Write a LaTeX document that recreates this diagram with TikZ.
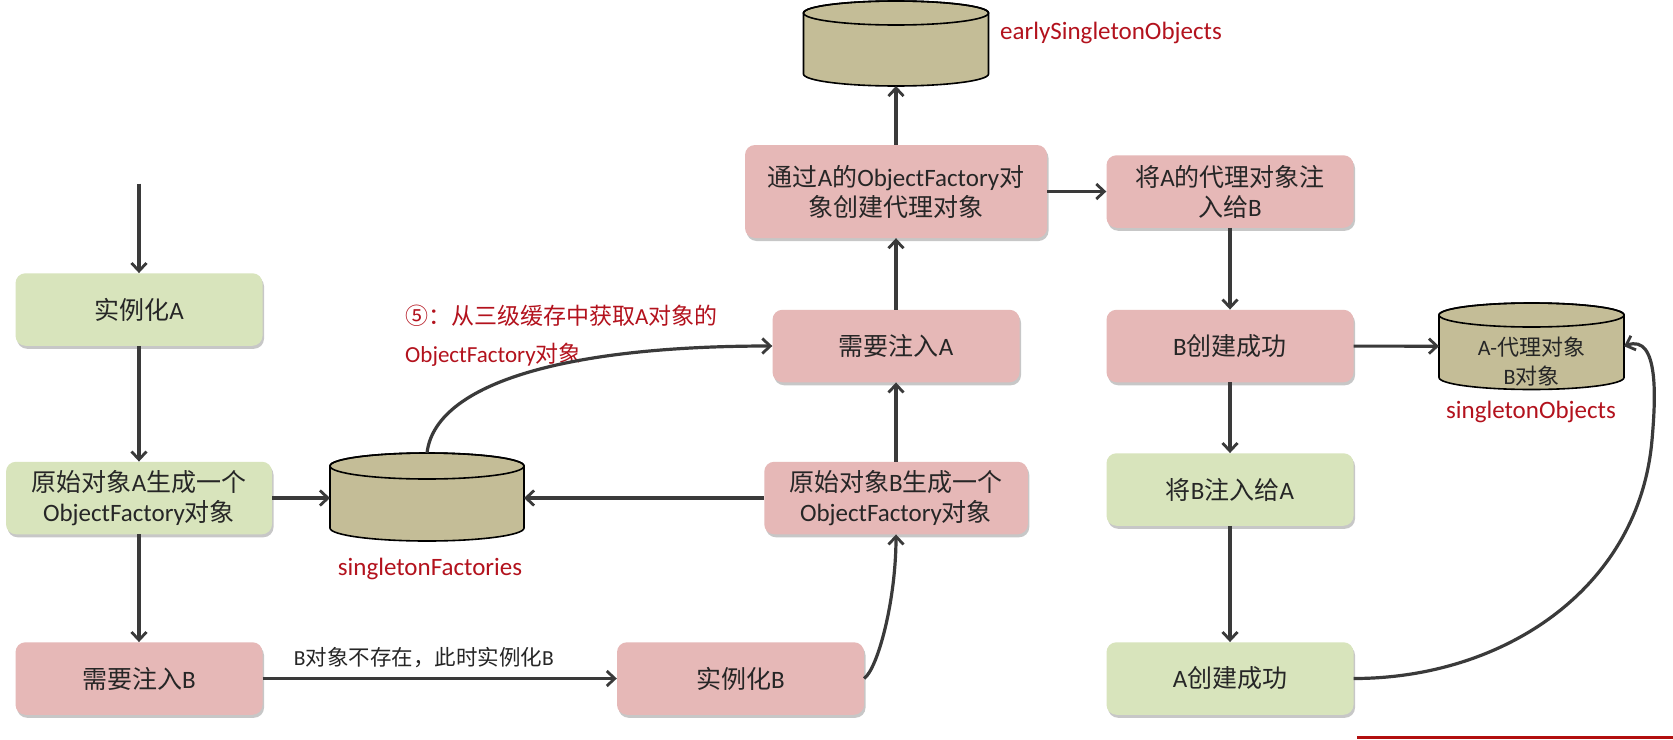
\documentclass[tikz,border=0pt]{standalone}
\usepackage{fontspec}
\setmainfont{Carlito}
\newfontfamily\cjkf{Noto Sans CJK SC}
\usetikzlibrary{arrows.meta,shadows}
\newcommand\zh[1]{{\cjkf #1}}

\definecolor{boxgreen}{HTML}{D8E4BC}
\definecolor{boxpink}{HTML}{E6B8B7}
\definecolor{cyltan}{HTML}{C4BD97}
\definecolor{labred}{HTML}{B3121D}
\definecolor{linegray}{HTML}{3A3A3A}
\definecolor{textdark}{HTML}{262626}
\definecolor{barred}{HTML}{B20F0F}

\tikzset{
  flowbox/.style={rounded corners=10pt, minimum width=247pt, minimum height=72.5pt,
    align=center, text=textdark, inner sep=0pt,
    font=\fontsize{25}{30}\selectfont,
    drop shadow={shadow xshift=1.5pt, shadow yshift=-3pt, opacity=.22, fill=black}},
  greenbox/.style={flowbox, fill=boxgreen},
  pinkbox/.style={flowbox, fill=boxpink},
  arr/.style={draw=linegray, line width=3.2pt, -{Straight Barb[length=8pt,width=15pt,line width=2.8pt]}},
  redlbl/.style={text=labred, inner sep=0pt, font=\fontsize{25}{30}\selectfont},
  edgelbl/.style={text=textdark, inner sep=0pt, font=\fontsize{21.5}{26}\selectfont},
  drumtext/.style={text=textdark, inner sep=0pt, align=center, font=\fontsize{22}{29}\selectfont},
  drumline/.style={draw=black, line width=1.6pt},
  drumanchor/.style={inner sep=0pt, outer sep=0pt},
}

% cache drum: #1 name, #2 centre x, #3 half width, #4 top ellipse y, #5 bottom ellipse y, #6 ellipse half height
\newcommand\cachedrum[6]{%
  \pgfmathsetmacro\drumL{#2-#3}%
  \pgfmathsetmacro\drumR{#2+#3}%
  \pgfmathsetmacro\drumH{#5-#4+2*#6}%
  \pgfmathsetmacro\drumM{-(#4+#5)/2}%
  \path[fill=cyltan, drumline] (\drumL,-#4) -- (\drumL,-#5)
    arc[start angle=180, end angle=360, x radius=#3pt, y radius=#6pt]
    -- (\drumR,-#4)
    arc[start angle=0, end angle=180, x radius=#3pt, y radius=#6pt] -- cycle;
  \draw[drumline] (#2,-#4) ellipse[x radius=#3pt, y radius=#6pt];
  \node[drumanchor, minimum width={2*#3pt}, minimum height={\drumH pt}] (#1) at (#2,\drumM) {};
}

\begin{document}
\begin{tikzpicture}[x=1pt, y=1pt]
  \fill[white] (0,0) rectangle (1673,-739);
  \useasboundingbox (0,0) rectangle (1673,-739);

  % caches
  \cachedrum{early}{896}{92.5}{13}{74}{12}
  \cachedrum{sf}{427}{97}{466}{528}{13}
  \cachedrum{so}{1531.5}{92.5}{315}{377.5}{12}

  % flow steps
  \node[greenbox] (instA) at (139,-309.5) {\zh{实例化}A};
  \node[greenbox, minimum width=266pt] (rawA) at (139,-498)
    {\zh{原始对象}A\zh{生成一个}\\ObjectFactory\zh{对象}};
  \node[pinkbox] (needB) at (139,-678.5) {\zh{需要注入}B};
  \node[pinkbox] (instB) at (740.5,-678.5) {\zh{实例化}B};
  \node[pinkbox, minimum width=263.5pt] (rawB) at (896,-498)
    {\zh{原始对象}B\zh{生成一个}\\ObjectFactory\zh{对象}};
  \node[pinkbox] (needA) at (896,-346) {\zh{需要注入}A};
  \node[pinkbox, minimum width=302pt, minimum height=93pt] (viaA) at (896,-191.5)
    {\zh{通过}A\zh{的}ObjectFactory\zh{对}\\\zh{象创建代理对象}};
  \node[pinkbox] (proxyB) at (1230,-191.5) {\zh{将}A\zh{的代理对象注}\\\zh{入给}B};
  \node[pinkbox] (Bdone) at (1230,-346) {B\zh{创建成功}};
  \node[greenbox] (injA) at (1230,-489.5) {\zh{将}B\zh{注入给}A};
  \node[greenbox] (Adone) at (1230,-678.5) {A\zh{创建成功}};

  % cache labels
  \node[redlbl, anchor=west] (earlyLbl) at (1000,-33) {earlySingletonObjects};
  \node[redlbl] (sfLbl) at (430,-569) {singletonFactories};
  \node[redlbl] (soLbl) at (1531,-412) {singletonObjects};
  \node[drumtext] (soText) at (1531.5,-362) {A-\zh{代理对象}\\B\zh{对象}};
  \node[redlbl, anchor=west, align=left, font=\fontsize{23}{38}\selectfont] (stepFive) at (405,-336)
    {\zh{⑤：从三级缓存中获取}A\zh{对象的}\\ObjectFactory\zh{对象}};

  % connectors
  \coordinate (entry) at (139,-183.5);
  \coordinate (loopR) at (1652,-440);
  \draw[arr] (entry) -- (instA);
  \draw[arr] (instA) -- (rawA);
  \draw[arr] (rawA) -- (needB);
  \draw[arr] (needB) -- node[edgelbl, xshift=-16pt, yshift=20.5pt] (noB) {B\zh{对象不存在，此时实例化}B} (instB);
  \draw[arr] (instB.east) .. controls (878,-668) and (896,-600) .. (rawB.south);
  \draw[arr] (rawA.east) -- (rawA.east -| sf.west);
  \draw[arr] (rawB.west) -- (rawB.west -| sf.east);
  \draw[arr] (sf.north) .. controls (435,-385) and (560,-346) .. (needA.west);
  \draw[arr] (rawB) -- (needA);
  \draw[arr] (needA) -- (viaA);
  \draw[arr] (viaA) -- (early);
  \draw[arr] (viaA) -- (proxyB);
  \draw[arr] (proxyB) -- (Bdone);
  \draw[arr] (Bdone) -- (so);
  \draw[arr] (Bdone) -- (injA);
  \draw[arr] (injA) -- (Adone);
  \draw[arr] (Adone.east) to[out=0, in=-95] (loopR) to[out=85, in=20] (so.east);

  % footer strip
  \fill[barred] (1357,-735.5) rectangle (1673,-739);
\end{tikzpicture}
\end{document}
